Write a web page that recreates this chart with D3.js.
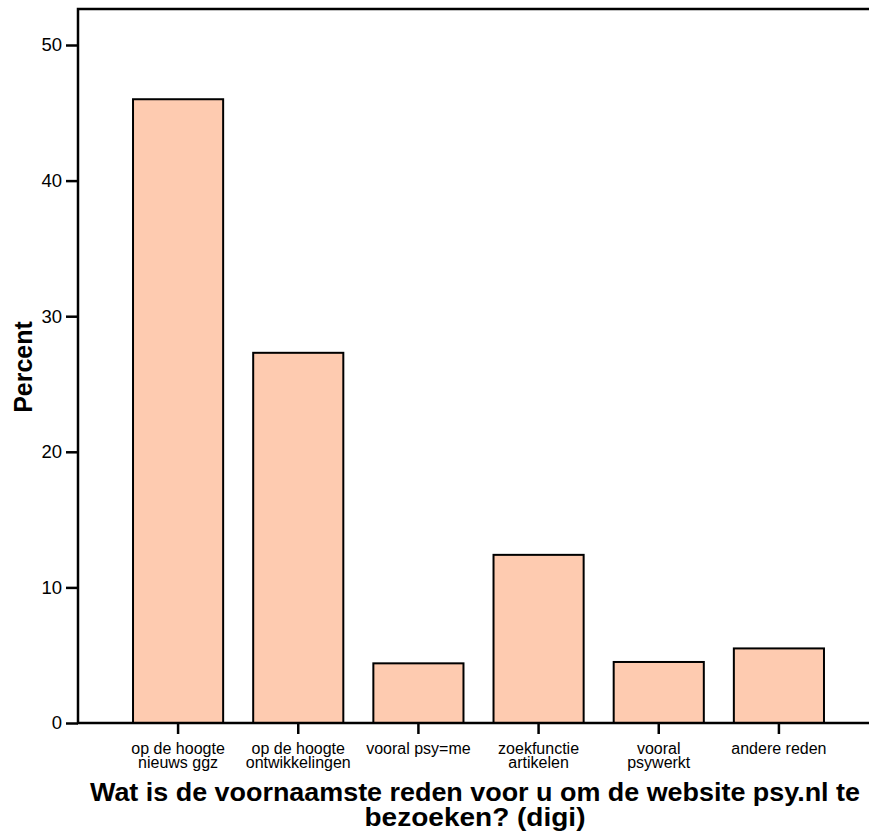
<!DOCTYPE html>
<html><head><meta charset="utf-8">
<script src="https://cdn.jsdelivr.net/npm/d3@7"></script>
<style>body{margin:0;background:#fff;} text{font-family:"Liberation Sans",Arial,sans-serif;}</style>
</head><body>
<svg id="c" width="869" height="832"></svg>
<script>
const categories = [["op de hoogte","nieuws ggz"],["op de hoogte","ontwikkelingen"],["vooral psy=me"],["zoekfunctie","artikelen"],["vooral","psywerkt"],["andere reden"]];
const values = [46.0, 27.3, 4.4, 12.4, 4.5, 5.5];
const yTicks = [0, 10, 20, 30, 40, 50];
const yLabel = "Percent";
const xTitle = ["Wat is de voornaamste reden voor u om de website psy.nl te","bezoeken? (digi)"];

const svg = d3.select("#c");
const pLeft = 78, pRight = 869, pTop = 9, pBottom = 723;
const y = d3.scaleLinear().domain([0, 50]).range([pBottom, 45]);
const ids = categories.map((d,i)=>i);
const x = d3.scaleBand().domain(ids).range([118, 839]).paddingInner(0.25).paddingOuter(0.125);

svg.selectAll("rect.bar").data(values).enter().append("rect")
  .attr("x",(d,i)=>x(i)).attr("y",d=>y(d))
  .attr("width",x.bandwidth()).attr("height",d=>pBottom-y(d))
  .attr("fill","#fecbb0").attr("stroke","#000").attr("stroke-width",2);

// frame
svg.append("path").attr("d",`M${pRight},${pTop}H${pLeft}V${pBottom}H${pRight}`)
  .attr("fill","none").attr("stroke","#000").attr("stroke-width",2.5);

// y axis
const ya = svg.append("g").attr("transform",`translate(${pLeft},0)`)
  .call(d3.axisLeft(y).tickValues(yTicks).tickSize(12).tickPadding(4).tickFormat(d3.format("d")));
ya.select(".domain").remove();
ya.selectAll("line").attr("stroke","#000").attr("stroke-width",2.5);
ya.selectAll("text").attr("font-size",18.5).attr("fill","#000").attr("font-family","Liberation Sans, Arial, sans-serif");

// x axis
const xa = svg.append("g").attr("transform",`translate(0,${pBottom})`)
  .call(d3.axisBottom(x).tickSize(11).tickFormat(""));
xa.select(".domain").remove();
xa.selectAll("line").attr("stroke","#000").attr("stroke-width",2.5);
categories.forEach((lines,i)=>{
  const t = svg.append("text").attr("text-anchor","middle").attr("font-size",16).attr("fill","#000")
    .attr("x", x(i)+x.bandwidth()/2).attr("y", 753.5);
  lines.forEach((l,j)=>t.append("tspan").attr("x",x(i)+x.bandwidth()/2).attr("dy", j?14:0).text(l));
});

// titles
const titleLens = [770, 221];
xTitle.forEach((l,j)=>{
  svg.append("text").attr("text-anchor","middle").attr("font-size",26.5).attr("font-weight","bold")
    .attr("x",475).attr("y",800.5 + j*25)
    .attr("textLength",titleLens[j]).attr("lengthAdjust","spacingAndGlyphs").text(l);
});

svg.append("text").attr("text-anchor","middle").attr("font-size",25).attr("font-weight","bold")
  .attr("transform","translate(32.3,367) rotate(-90)").text(yLabel);
</script>
</body></html>
